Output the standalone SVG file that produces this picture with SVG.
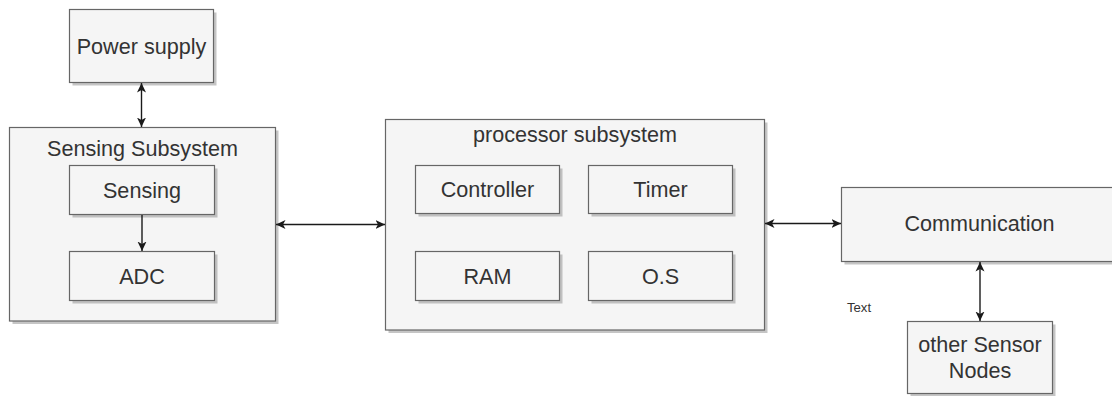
<svg xmlns="http://www.w3.org/2000/svg" width="1112" height="396" viewBox="0 0 1112 396">
  <style>
    .box { fill: #f5f5f5; stroke: #666666; stroke-width: 1.2; }
    .shadow { fill: #8c8c8c; opacity: 0.5; }
    .lbl { font-family: "Liberation Sans", Arial, sans-serif; font-size: 21.6px; fill: #333333; text-anchor: middle; }
    .small { font-family: "Liberation Sans", Arial, sans-serif; font-size: 13.2px; fill: #333333; text-anchor: middle; }
    .edge { stroke: #1a1a1a; stroke-width: 1.4; fill: none; }
  </style>
  <defs>
    <marker id="arrow" viewBox="0 0 10 10" markerWidth="10" markerHeight="10" refX="9.5" refY="5" markerUnits="userSpaceOnUse" orient="auto-start-reverse">
      <path d="M0,0.5 L9.5,5 L0,9.5 L2.5,5 z" fill="#1a1a1a"/>
    </marker>
  </defs>
  <rect width="1112" height="396" fill="#ffffff"/>

  <!-- Power supply -->
  <g id="power-supply">
    <rect class="shadow" x="72.5" y="12.5" width="144" height="73"/>
    <rect class="box" x="69.5" y="9.5" width="144" height="73"/>
    <text class="lbl" x="141.5" y="53.5">Power supply</text>
  </g>

  <!-- Sensing subsystem container -->
  <g id="sensing-subsystem">
    <rect class="shadow" x="12.5" y="130.5" width="266" height="193.5"/>
    <rect class="box" x="9.5" y="127.5" width="266" height="193.5"/>
    <text class="lbl" x="142.5" y="156">Sensing Subsystem</text>
  </g>
  <g id="sensing">
    <rect class="shadow" x="72.5" y="168.5" width="145" height="49"/>
    <rect class="box" x="69.5" y="165.5" width="145" height="49"/>
    <text class="lbl" x="142" y="197.5">Sensing</text>
  </g>
  <g id="adc">
    <rect class="shadow" x="72.5" y="254.5" width="145" height="49"/>
    <rect class="box" x="69.5" y="251.5" width="145" height="49"/>
    <text class="lbl" x="142" y="283.5">ADC</text>
  </g>

  <!-- Processor subsystem container -->
  <g id="processor-subsystem">
    <rect class="shadow" x="388.5" y="122.5" width="379" height="210.5"/>
    <rect class="box" x="385.5" y="119.5" width="379" height="210.5"/>
    <text class="lbl" x="575" y="142">processor subsystem</text>
  </g>
  <g id="controller">
    <rect class="shadow" x="418.5" y="168.5" width="144" height="48"/>
    <rect class="box" x="415.5" y="165.5" width="144" height="48"/>
    <text class="lbl" x="487.5" y="197">Controller</text>
  </g>
  <g id="timer">
    <rect class="shadow" x="591.5" y="168.5" width="144" height="48"/>
    <rect class="box" x="588.5" y="165.5" width="144" height="48"/>
    <text class="lbl" x="660.5" y="197">Timer</text>
  </g>
  <g id="ram">
    <rect class="shadow" x="418.5" y="254.5" width="144" height="49"/>
    <rect class="box" x="415.5" y="251.5" width="144" height="49"/>
    <text class="lbl" x="487.5" y="283.5">RAM</text>
  </g>
  <g id="os">
    <rect class="shadow" x="591.5" y="254.5" width="144" height="49"/>
    <rect class="box" x="588.5" y="251.5" width="144" height="49"/>
    <text class="lbl" x="660.5" y="283.5">O.S</text>
  </g>

  <!-- Communication -->
  <g id="communication">
    <rect class="shadow" x="844.5" y="190.5" width="276" height="74"/>
    <rect class="box" x="841.5" y="187.5" width="276" height="74"/>
    <text class="lbl" x="979.5" y="231">Communication</text>
  </g>

  <!-- Other sensor nodes -->
  <g id="other-sensor-nodes">
    <rect class="shadow" x="910.5" y="324.5" width="145" height="72"/>
    <rect class="box" x="907.5" y="321.5" width="145" height="72"/>
    <text class="lbl" x="980" y="352">other Sensor</text>
    <text class="lbl" x="980" y="378">Nodes</text>
  </g>

  <!-- Free-standing label -->
  <g id="text-label">
    <text class="small" x="859" y="312">Text</text>
  </g>

  <!-- Connectors -->
  <g id="connectors">
    <line class="edge" x1="141.5" y1="83" x2="141.5" y2="127" marker-start="url(#arrow)" marker-end="url(#arrow)"/>
    <line class="edge" x1="142" y1="215" x2="142" y2="251" marker-end="url(#arrow)"/>
    <line class="edge" x1="276" y1="224.5" x2="385" y2="224.5" marker-start="url(#arrow)" marker-end="url(#arrow)"/>
    <line class="edge" x1="765" y1="223.5" x2="841" y2="223.5" marker-start="url(#arrow)" marker-end="url(#arrow)"/>
    <line class="edge" x1="980" y1="262" x2="980" y2="321" marker-start="url(#arrow)" marker-end="url(#arrow)"/>
  </g>
</svg>
